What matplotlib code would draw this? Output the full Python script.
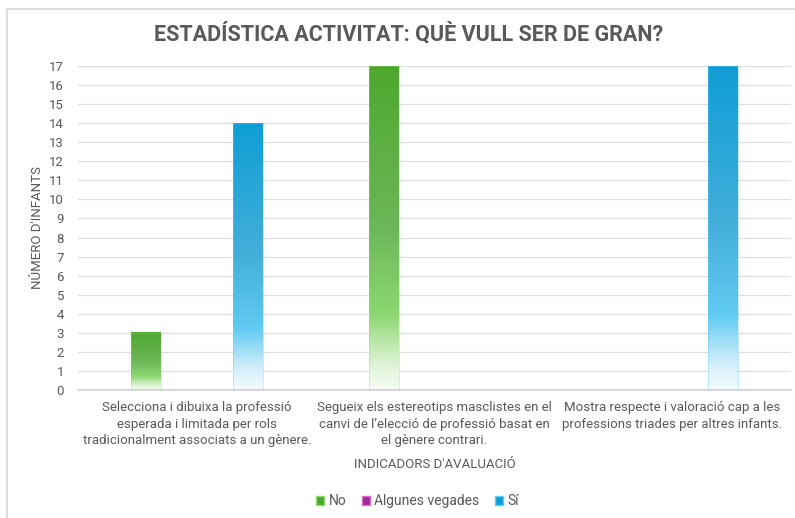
import numpy as np
import matplotlib.pyplot as plt
from matplotlib.colors import LinearSegmentedColormap
from matplotlib.patches import Patch, Rectangle

plt.rcParams['font.family'] = ['Roboto', 'DejaVu Sans']

categories = [
    "Selecciona i dibuixa la professió\nesperada i limitada per rols\ntradicionalment associats a un gènere.",
    "Segueix els estereotips masclistes en el\ncanvi de l\u2019elecció de professió basat en\nel gènere contrari.",
    "Mostra respecte i valoració cap a les\nprofessions triades per altres infants.",
]
series_names = ["No", "Algunes vegades", "Sí"]
no_vals = [3, 17, 0]
algunes_vals = [0, 0, 0]
si_vals = [14, 0, 17]
values = [no_vals, algunes_vals, si_vals]

# gradient stops: top colour -> lighter tint -> near white at the base
stops = {
    "No": ["#4EA72E", "#6CB758", "#8ED873", "#DDF3D5", "#F7FCF5"],
    "Algunes vegades": ["#A02B93", "#B35AA8", "#D86ECC", "#F3D5EF", "#FCF5FB"],
    "Sí": ["#0F9ED5", "#44AFDB", "#61CBF3", "#D2EFFB", "#F4FBFE"],
}
stop_pos = [0.0, 0.5, 0.77, 0.92, 1.0]

text_col = "#595959"

fig = plt.figure(figsize=(7.95, 5.18), dpi=100)
ax = fig.add_axes([78 / 795, 1 - 390 / 518, 713 / 795, 324 / 518])

x = np.arange(len(categories))
width = 0.126
offsets = [-0.2137, 0.0, 0.2137]

for name, vals, off in zip(series_names, values, offsets):
    cmap = LinearSegmentedColormap.from_list(name, list(zip(stop_pos, stops[name])))
    grad = np.linspace(0, 1, 256).reshape(-1, 1)
    for xi, v in zip(x, vals):
        if v <= 0:
            continue
        x0 = xi + off - width / 2
        ax.imshow(grad, cmap=cmap, extent=[x0, x0 + width, 0, v], origin="upper",
                  aspect="auto", interpolation="bicubic", zorder=2)
        ax.add_patch(Rectangle((x0, 0), width, v, fill=False,
                               edgecolor=stops[name][2], linewidth=0.5, alpha=0.5, zorder=3))

ax.set_xlim(-0.5, len(categories) - 0.5)
ax.set_ylim(0, 17)
ax.set_yticks(range(0, 18))
ax.set_xticks(x)
ax.set_xticklabels(categories, fontsize=9.5, color=text_col, linespacing=1.35)
ax.tick_params(axis="y", labelsize=9.5, colors=text_col, length=0, pad=10)
ax.tick_params(axis="x", length=0, pad=8)
ax.yaxis.grid(True, color="#DEDEDE", linewidth=0.9, zorder=0)
ax.set_axisbelow(True)
for s in ["top", "right", "left"]:
    ax.spines[s].set_visible(False)
ax.spines["bottom"].set_color("#D0D0D0")
ax.spines["bottom"].set_linewidth(1.2)

ax.set_ylabel("NÚMERO D'INFANTS", fontsize=9.5, color=text_col, labelpad=4)
ax.set_xlabel("INDICADORS D'AVALUACIÓ", fontsize=9.5, color=text_col, labelpad=8)

fig.text(0.514, 1 - 34 / 518, "ESTADÍSTICA ACTIVITAT: QUÈ VULL SER DE GRAN?",
         ha="center", va="center", fontsize=15.5, fontweight="bold", color=text_col)

handles = [Patch(facecolor=stops[n][0], edgecolor=stops[n][2]) for n in series_names]
leg = fig.legend(handles, series_names, loc="center", bbox_to_anchor=(0.525, 1 - 501 / 518),
                 ncol=3, frameon=False, fontsize=10, handlelength=0.6, handleheight=0.6,
                 handletextpad=0.3, columnspacing=1.1)
for t in leg.get_texts():
    t.set_color(text_col)

# chart border (cropped on right and bottom)
fig.add_artist(Rectangle((7 / 795, -0.1), 1.2, 1 - 9 / 518 + 0.1, transform=fig.transFigure,
                         fill=False, edgecolor="#D9D9D9", linewidth=1.2))

fig.savefig("out.png", dpi=100)
